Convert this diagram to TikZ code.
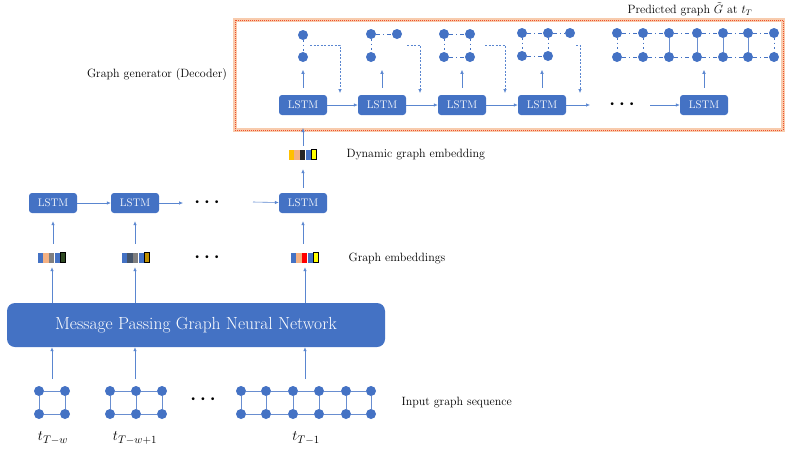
\documentclass[tikz,border=0pt]{standalone}
\usepackage{amsmath}
\usepackage{amssymb}
\usepackage{tikz}
\usetikzlibrary{positioning,arrows.meta,calc}

\definecolor{gblue}{HTML}{4472C4}
\definecolor{ablue}{HTML}{5A86D0}
\definecolor{glow}{HTML}{F8CBAD}
\definecolor{framered}{HTML}{F0502A}
\definecolor{salmon}{HTML}{F4B183}
\definecolor{midgray}{HTML}{7F7F7F}
\definecolor{slate}{HTML}{44546A}
\definecolor{darkgreen}{HTML}{2F4A22}
\definecolor{gold}{HTML}{BF9000}
\definecolor{amber}{HTML}{FFC000}
\definecolor{embred}{HTML}{FF0000}
\definecolor{embyellow}{HTML}{FFFF00}

\tikzset{
  lstm/.style={rectangle, rounded corners=3pt, fill=gblue, text=white, minimum width=48pt, minimum height=20pt, inner sep=0pt, font=\fontsize{11}{13}\selectfont},
  gdot/.style={circle, fill=gblue, inner sep=0pt, minimum size=10pt},
  flow/.style={-{Latex[length=4pt,width=3.5pt]}, ablue, line width=0.6pt},
  fb/.style={-{Latex[length=4pt,width=3.5pt]}, ablue, line width=0.6pt, dash pattern=on 2pt off 1.5pt},
  gedge/.style={gblue!80, line width=0.9pt},
  dashdot/.style={gblue, line width=0.9pt, dash pattern=on 4pt off 3pt on 1pt off 3pt},
  dotline/.style={gblue, line width=0.9pt, dash pattern=on 1.5pt off 3pt},
  emb/.style={rectangle, minimum width=28pt, minimum height=10pt, inner sep=0pt},
  lbl/.style={font=\fontsize{12}{14}\selectfont, anchor=west},
  dots/.style={font=\normalsize}
}

% embedding bar: name, x, y, four cell colours, last cell colour
\newcommand{\gemb}[8]{%
  \node[emb] (#1) at (#2,#3) {};
  \foreach \c [count=\i from 0] in {#4,#5,#6,#7}
    \fill[\c] ([xshift=\i*5.6pt]#1.north west) rectangle ++(5.2,10);
  \draw[fill=#8, line width=1pt] ([xshift=23pt]#1.north west) rectangle ++(4.6,10);
}

\begin{document}
\begin{tikzpicture}[x=1pt, y=-1pt]
\useasboundingbox (0,0) rectangle (785,448);

%decoder frame
\draw[glow, line width=3.5pt] (235,20) rectangle (783,130);
\draw[framered, line width=0.9pt, dash pattern=on 1pt off 1pt] (235,20) rectangle (783,130);
\node[lbl, anchor=center] (declbl) at (157,75) {Graph generator (Decoder)};
\node[lbl, anchor=center] (predlbl) at (690,9) {Predicted graph $\tilde{G}$ at $t_T$};

%decoder lstms
\foreach \x [count=\i] in {303,382,462,542,704}
  \node[lstm] (l\i) at (\x,105) {LSTM};
\foreach \i [count=\j from 2] in {1,2,3}
  \draw[flow] (l\i) -- (l\j);
\coordinate (l4out) at (590,105);
\coordinate (l5in) at (650,105);
\draw[flow] (l4) -- (l4out);
\node[dots] (decdots) at (622,105) {\textbullet\hspace{2pt}\textbullet\hspace{2pt}\textbullet};
\draw[flow] (l5in) -- (l5);
\foreach \i in {1,...,5}
  \draw[flow, shorten <=7pt] (l\i.north) -- ++(0,-25);

%generated graphs, step by step
\node[gdot] (d1a) at (303,35) {};
\node[gdot] (d1b) at (303,57) {};
\draw[dotline] (d1a) -- (d1b);

\node[gdot] (d2a) at (371,34) {};
\node[gdot] (d2b) at (397,34) {};
\node[gdot] (d2c) at (371,57) {};
\draw[dashdot] (d2a) -- (d2b);
\draw[dotline] (d2a) -- (d2c);

\node[gdot] (d3a) at (444,34) {};
\node[gdot] (d3b) at (470,34) {};
\node[gdot] (d3c) at (444,57) {};
\node[gdot] (d3d) at (470,57) {};
\draw[dashdot] (d3a) -- (d3b);
\draw[dashdot] (d3c) -- (d3d);
\draw[dotline] (d3a) -- (d3c);
\draw[dotline] (d3b) -- (d3d);

\node[gdot] (d4a) at (522,33) {};
\node[gdot] (d4b) at (548,33) {};
\node[gdot] (d4c) at (570,33) {};
\node[gdot] (d4d) at (522,56) {};
\node[gdot] (d4e) at (548,56) {};
\draw[dashdot] (d4a) -- (d4b);
\draw[dashdot] (d4b) -- (d4c);
\draw[dashdot] (d4d) -- (d4e);
\draw[dotline] (d4a) -- (d4d);
\draw[dotline] (d4b) -- (d4e);

%feedback into next step
\foreach \s/\e [count=\i] in {310/340, 407/420, 485/505, 576/580} {
  \coordinate (fs\i) at (\s,45);
  \coordinate (fe\i) at (\e,93);
  \draw[fb] (fs\i) -| (fe\i);
}

%predicted graph
\foreach \x [count=\i] in {617,643,669,697,723,748,774} {
  \node[gdot] (pt\i) at (\x,33) {};
  \node[gdot] (pb\i) at (\x,57) {};
}
\foreach \i [count=\j from 2] in {1,...,6} {
  \draw[dashdot] (pt\i) -- (pt\j);
  \draw[dashdot] (pb\i) -- (pb\j);
}
\foreach \i in {1,2,7}
  \draw[dotline] (pt\i) -- (pb\i);
\foreach \i in {3,...,6}
  \draw[gedge] (pt\i) -- (pb\i);

%encoder lstms
\node[lstm] (e1) at (53,203) {LSTM};
\node[lstm] (e2) at (135,203) {LSTM};
\node[lstm] (e3) at (303,203) {LSTM};
\coordinate (e2out) at (183,203);
\coordinate (e3in) at (253,202);
\draw[flow] (e1) -- (e2);
\draw[flow] (e2) -- (e2out);
\node[dots] (encdots) at (207,203) {\textbullet\hspace{2pt}\textbullet\hspace{2pt}\textbullet};
\draw[flow] (e3in) -- (e3);

%embeddings
\gemb{dyn}{303}{155}{amber}{salmon}{black!85}{gblue}{embyellow}
\gemb{ge1}{52}{258}{gblue}{salmon}{midgray}{gblue}{darkgreen}
\gemb{ge2}{136}{258}{gblue}{slate}{midgray}{gblue}{gold}
\gemb{ge3}{305}{258}{gblue}{salmon}{embred}{gblue}{embyellow}
\node[dots] (embdots) at (207,258) {\textbullet\hspace{2pt}\textbullet\hspace{2pt}\textbullet};
\node[lbl] (dynlbl) at (343,155) {Dynamic graph embedding};
\node[lbl] (emblbl) at (345,258) {Graph embeddings};

\coordinate (decin) at (303,128);
\draw[flow, shorten <=4pt] (dyn.north) -- (decin);
\draw[flow, shorten <=5pt, shorten >=9pt] (e3.north) -- (dyn.south);
\draw[flow, shorten <=9pt, shorten >=8pt] (ge1.north -| e1) -- (e1.south);
\draw[flow, shorten <=9pt, shorten >=8pt] (ge2.north -| e2) -- (e2.south);
\draw[flow, shorten <=9pt, shorten >=8pt] (ge3.north -| e3) -- (e3.south);

%message passing network
\node[rectangle, rounded corners=8pt, fill=gblue, text=white, minimum width=378pt, minimum height=44pt, font=\fontsize{17.5}{20}\selectfont] (mp) at (196,325) {Message Passing Graph Neural Network};
\draw[flow, shorten >=4pt] (mp.north -| ge1) -- (ge1.south);
\draw[flow, shorten >=4pt] (mp.north -| e2) -- (ge2.south -| e2);
\draw[flow, shorten >=4pt] (mp.north -| ge3) -- (ge3.south);

%input graphs
\node[gdot] (a1) at (39,391) {};
\node[gdot] (a2) at (65,391) {};
\node[gdot] (a3) at (39,414) {};
\node[gdot] (a4) at (65,414) {};
\draw[gedge] (a1) -- (a2) -- (a4) -- (a3) -- (a1);

\foreach \x [count=\i] in {110,136,162} {
  \node[gdot] (bt\i) at (\x,391) {};
  \node[gdot] (bb\i) at (\x,414) {};
  \draw[gedge] (bt\i) -- (bb\i);
}
\foreach \i [count=\j from 2] in {1,2} {
  \draw[gedge] (bt\i) -- (bt\j);
  \draw[gedge] (bb\i) -- (bb\j);
}

\foreach \x [count=\i] in {241,266,293,319,346,371} {
  \node[gdot] (ct\i) at (\x,391) {};
  \node[gdot] (cb\i) at (\x,414) {};
  \draw[gedge] (ct\i) -- (cb\i);
}
\foreach \i [count=\j from 2] in {1,...,5} {
  \draw[gedge] (ct\i) -- (ct\j);
  \draw[gedge] (cb\i) -- (cb\j);
}
\node[dots] (indots) at (203,400) {\textbullet\hspace{2pt}\textbullet\hspace{2pt}\textbullet};
\node[lbl] (inlbl) at (398,403) {Input graph sequence};

\coordinate (in1) at (52,379);
\coordinate (in2) at (135,379);
\coordinate (in3) at (305,379);
\foreach \i in {1,2,3}
  \draw[flow] (in\i) -- (in\i |- mp.south);

%time steps
\node[font=\fontsize{15}{17}\selectfont] (t1) at (53,438) {$t_{T-w}$};
\node[font=\fontsize{15}{17}\selectfont] (t2) at (135,438) {$t_{T-w+1}$};
\node[font=\fontsize{15}{17}\selectfont] (t3) at (306,438) {$t_{T-1}$};
\end{tikzpicture}
\end{document}
